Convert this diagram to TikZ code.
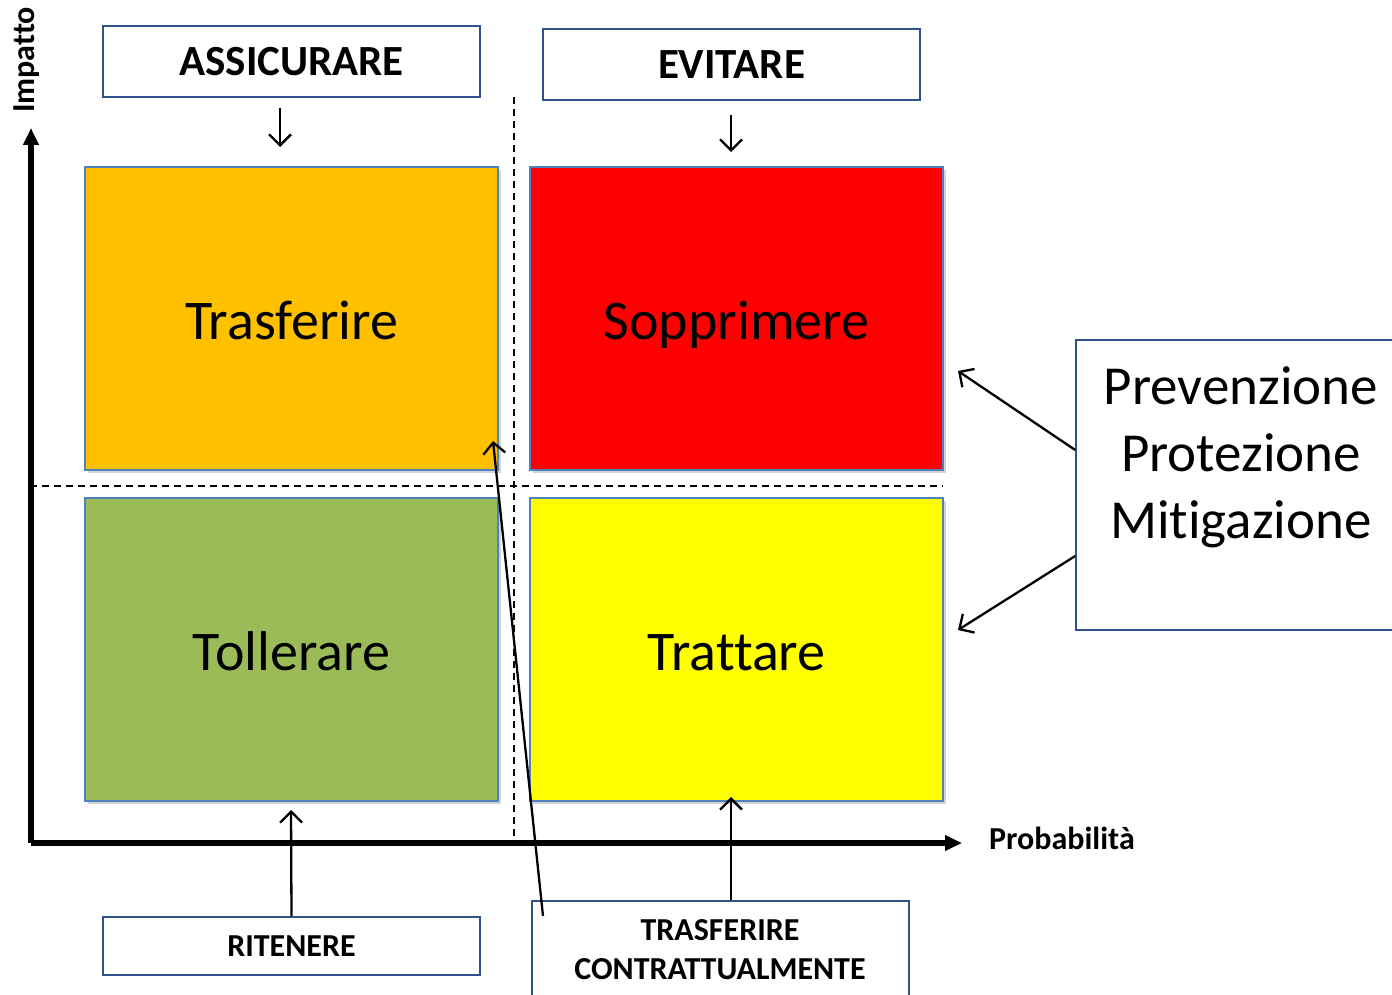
\documentclass[tikz,border=0pt]{standalone}
\usepackage{fontspec}
\setmainfont{Carlito}[Ligatures={NoCommon}]
\usetikzlibrary{arrows.meta,shadows}
\definecolor{boxblue}{HTML}{2F528F}
\definecolor{qblue}{HTML}{4F81BD}
\definecolor{qorange}{HTML}{FFC000}
\definecolor{qred}{HTML}{FF0000}
\definecolor{qgreen}{HTML}{9BBB59}
\definecolor{qyellow}{HTML}{FFFF00}
\tikzset{
  lblbox/.style={draw=boxblue, line width=1.6pt, fill=white, inner sep=0pt, font=\bfseries\fontsize{43}{48}\selectfont},
  smallbox/.style={draw=boxblue, line width=1.6pt, fill=white, inner sep=0pt, font=\bfseries\fontsize{32}{39}\selectfont, align=center},
  quad/.style={draw=qblue, line width=1.5pt, minimum width=413pt, minimum height=303pt, inner sep=0pt,
    text height=54pt, text depth=12pt,
    drop shadow={opacity=0.35, shadow xshift=3pt, shadow yshift=-3pt}, font=\fontsize{56}{64}\selectfont},
  arr/.style={line width=2.3pt, -{Straight Barb[length=11pt,width=22pt,line width=2.3pt]}},
  axis/.style={line width=5.5pt, -{Triangle[length=17pt,width=15pt]}},
  dsh/.style={line width=1.5pt, dash pattern=on 7pt off 5pt},
  axlbl/.style={font=\bfseries\fontsize{32}{36}\selectfont, inner sep=0pt}
}
\begin{document}
\begin{tikzpicture}[x=1pt,y=-1pt]
\useasboundingbox (0,0) rectangle (1392,995);
% labelled boxes
\node[lblbox, minimum width=377pt, minimum height=71pt] (ass) at (291.5,61.5) {ASSICURARE};
\node[lblbox, minimum width=377pt, minimum height=71pt] (evi) at (731.5,64.5) {EVITARE};
% dashed lines
\coordinate (dvt) at (514,97);
\coordinate (dvb) at (514,840);
\coordinate (dhl) at (30,486);
\coordinate (dhr) at (943,486);
\draw[dsh] (dvt) -- (dvb);
\draw[dsh] (dhl) -- (dhr);
% quadrants
\node[quad, fill=qorange] (tra) at (291.5,318.5) {Trasferire};
\node[quad, fill=qred] (sop) at (736.5,318.5) {Sopprimere};
\node[quad, fill=qgreen] (tol) at (291.5,649.5) {Tollerare};
\node[quad, fill=qyellow] (trt) at (736.5,649.5) {Trattare};
% axes
\coordinate (orig) at (31,843);
\coordinate (ytop) at (31,128);
\coordinate (xend) at (962,843);
\draw[axis] (orig) -- (ytop);
\draw[axis] (orig) -- (xend);
\node[axlbl, rotate=90] (imp) at (27,60) {Impatto};
\node[axlbl, anchor=west] (prob) at (989,838) {Probabilità};
% down arrows
\coordinate (a1s) at (280,108);
\coordinate (a1e) at (280,147);
\coordinate (a2s) at (731,115);
\coordinate (a2e) at (731,152);
\draw[arr] (a1s) -- (a1e);
\draw[arr] (a2s) -- (a2e);
% right box
\node[draw=boxblue, line width=1.6pt, fill=white, minimum width=330pt, minimum height=290pt, inner sep=0pt] (prev) at (1241,485) {};
\node[font=\fontsize{55}{67}\selectfont, align=center, inner sep=0pt] (prevtxt) at (1241,457) {Prevenzione\\Protezione\\Mitigazione};
\coordinate (p1) at (958,371);
\coordinate (p2) at (958,630);
\draw[arr] (prev.west |- 0,450) -- (p1);
\draw[arr] (prev.west |- 0,556) -- (p2);
% bottom boxes
\node[smallbox, minimum width=377pt, minimum height=58pt] (rit) at (291.5,946) {RITENERE};
\node[draw=boxblue, line width=1.6pt, fill=white, minimum width=377pt, minimum height=110pt, inner sep=0pt] (tc) at (720.5,956) {};
\node[font=\bfseries\fontsize{32}{39}\selectfont, align=center, inner sep=0pt] (tctxt) at (720,950) {TRASFERIRE\\CONTRATTUALMENTE};
\coordinate (r1) at (291,810);
\coordinate (t1) at (731,797);
\coordinate (lstart) at (543,916);
\coordinate (lend) at (493,441);
\draw[arr] (rit.north) -- (r1);
\draw[arr] (tc.north -| 731,0) -- (t1);
\draw[arr] (lstart) -- (lend);
\end{tikzpicture}
\end{document}
